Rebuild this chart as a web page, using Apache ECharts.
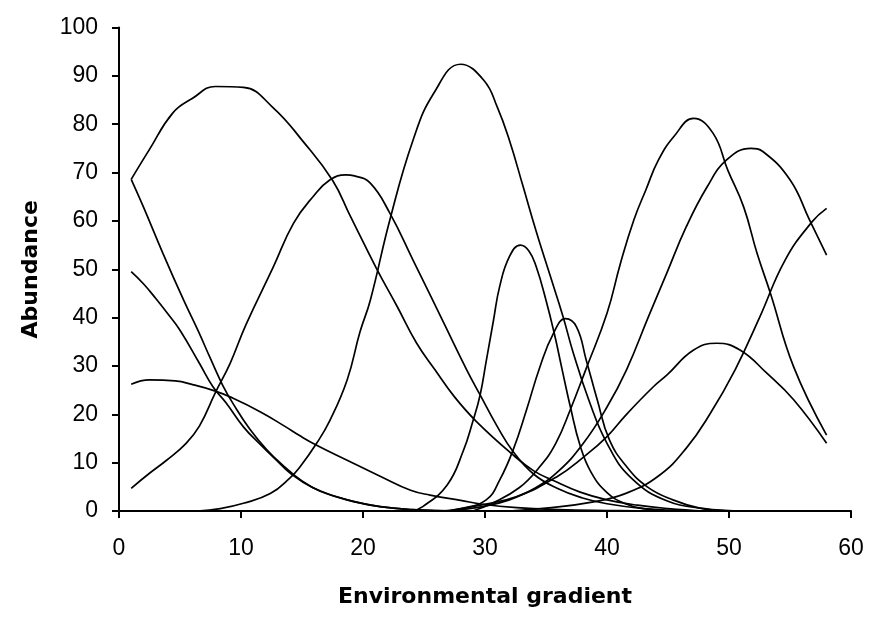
<!DOCTYPE html>
<html>
<head>
<meta charset="utf-8">
<script src="https://cdn.jsdelivr.net/npm/echarts@6/dist/echarts.min.js"></script>
<style>
    html, body { margin: 0; padding: 0; background: #fff; }
    #chart { width: 878px; height: 622px; }
</style>
</head>
<body>
<div id="chart"></div>
<script>
// species response curves along the gradient, [gradient, abundance]
var speciesA = [[1,68.6],[2.5,74.8],[4.4,82.3],[6,85.3],[7.9,87.8],[10.2,87.6],[12.6,83.5],[15.1,76.4],[17.5,68.4],[18.9,61.3],[21.1,50.2],[22.8,42.3],[24.4,34.7],[25.9,29.2],[27.5,23.6],[29.3,18.5],[32.3,11.6],[34,8.3],[35.6,6.3],[37.8,3.9],[40,2.3],[42.5,1.2],[45,0.5],[48,0]];
var speciesB = [[1,68.6],[2,62.9],[3.6,53.3],[5.3,43.6],[6.5,37.2],[7.5,31.5],[8.5,26],[9.4,22],[10.7,17],[12.1,12.7],[13.5,9.3],[15,6.2],[16.5,4.1],[18.7,2.3],[21.4,0.9],[24,0.3],[28,0]];
var speciesC = [[1,49.5],[2,47],[3,44],[4,40.8],[5,37.4],[6.6,30.5],[7.7,25.7],[8.8,22.3],[10.2,17.4],[11.6,13.7],[12.9,10.5],[14,7.9],[15.9,4.8],[18.7,2.3],[21.4,0.9],[24,0.3],[28,0]];
var speciesD = [[1,26.2],[2.5,27.1],[4.6,26.9],[6.1,26.1],[7.9,24.8],[9.1,23.6],[11.6,20.5],[13.6,17.5],[14.8,15.6],[16.2,13.6],[18.7,10.5],[21.4,7.2],[23.9,4.3],[25.5,3.3],[28,2.2],[29.8,1.4],[32.6,0.7],[36,0.3],[40,0.1],[44,0]];
var speciesE = [[1,4.7],[2.5,7.8],[3.9,10.5],[5.5,14],[6.6,17.6],[7.9,24.5],[9.1,30.5],[10.4,38.5],[12.65,50.5],[14.3,59.5],[15.9,65],[17.3,68.5],[18.6,69.5],[19.3,69.3],[20.6,67.8],[22.2,61.6],[24.1,51.9],[26.6,39],[28.5,29.2],[29.6,24],[31,17.5],[32.3,12.3],[34,7.6],[36,4.6],[38,2.7],[40,1.5],[43,0.5],[47,0]];
var speciesF = [[6.4,0],[8.3,0.5],[10.2,1.6],[12.4,3.6],[14,6.8],[14.8,9],[16.2,14],[17.3,18.8],[18.7,27.1],[19.75,37],[20.6,43.6],[22.2,60.2],[24.1,76.7],[25.8,86.4],[28,92.4],[29.9,89.1],[31,83.6],[32,76.7],[33.1,67.3],[34.2,57.8],[35.3,49],[36.4,40.2],[37.2,33],[38.5,23],[40,14],[42,6.8],[45,2],[48,0.5],[50.7,0]];
var speciesG = [[24,0],[24.9,0.9],[26.9,5.4],[28.2,12.3],[29,18.5],[29.6,24],[30.1,31],[30.7,39.5],[31.2,46.4],[32,52.6],[32.9,55],[33.6,53.8],[34.2,50.5],[35,43.6],[35.7,36.5],[36.3,29.5],[37,21.5],[37.8,13.5],[38.7,8],[40,3.8],[41.5,1.5],[43,0.5],[45,0]];
var speciesH = [[26.5,0],[28,0.5],[30.1,2.3],[31.2,6.4],[32.3,12.6],[33.4,20.9],[34.5,29.8],[35.6,36.7],[36.6,39.8],[37.5,38.1],[38.3,31.2],[39.2,23],[40.2,14.7],[41.6,9.2],[43.3,5],[45.4,2.3],[47.6,0.6],[50,0]];
var speciesI = [[29,0],[30.5,1.5],[32.8,4.8],[34.5,9.2],[35.8,14],[37,21],[38.3,29.5],[40,40.9],[41.1,51.2],[42.2,60.2],[43.2,66.5],[44.2,72.5],[45.5,77.5],[47.1,81.2],[48.7,78.1],[49.9,70.5],[51.2,62.9],[52.3,53.3],[53.4,45],[55.3,29.8],[58,15.7]];
var speciesJ = [[27,0],[30,1],[32,2.3],[34,4.6],[36,8.2],[38,13.8],[40,21.5],[41.6,29.2],[43.4,40.2],[44.9,49.2],[46.5,58.8],[48.2,67],[49.8,72.6],[51.8,75],[52.8,74.3],[55,68.5],[56.6,60.2],[58,52.9]];
var speciesK = [[27,0],[29.6,1.2],[32.6,3],[35.9,7.1],[38.1,11.2],[40,15.4],[41.6,20],[43.8,25.7],[44.9,28.1],[47.1,33.3],[49,34.7],[50.9,33.3],[53.1,28.5],[55.3,23],[58,14]];
var speciesL = [[32,0],[35,0.6],[38.9,1.9],[41.6,3.7],[44.3,7.4],[46.5,13],[48.4,19.9],[50.5,29.2],[52.5,40],[54.6,51.9],[56.8,59.8],[58,62.6]];

var allSpecies = [speciesA, speciesB, speciesC, speciesD, speciesE, speciesF,
                  speciesG, speciesH, speciesI, speciesJ, speciesK, speciesL];

var chart = echarts.init(document.getElementById('chart'));

var seriesList = [];
for (var i = 0; i < allSpecies.length; i++) {
    seriesList.push({
        name: 'sp' + (i + 1),
        type: 'line',
        data: allSpecies[i],
        smooth: 0.45,
        showSymbol: false,
        symbol: 'none',
        silent: true,
        lineStyle: { color: '#000', width: 1.7 }
    });
}

var labelFont = { fontFamily: 'Liberation Sans', fontSize: 23, color: '#000' };
var titleFont = { fontFamily: 'DejaVu Sans', fontWeight: 'bold', fontSize: 22, color: '#000' };

var option = {
    animation: false,
    backgroundColor: '#fff',
    grid: { left: 119, right: 27, top: 27.5, bottom: 111, outerBoundsMode: 'none' },
    xAxis: {
        type: 'value',
        min: 0, max: 60, interval: 10,
        name: 'Environmental gradient',
        nameLocation: 'middle',
        nameGap: 75,
        nameTextStyle: titleFont,
        axisLine: { show: true, onZero: false, lineStyle: { color: '#000', width: 2 } },
        axisTick: { show: true, inside: false, length: 7, lineStyle: { color: '#000', width: 2 } },
        axisLabel: Object.assign({ margin: 26 }, labelFont),
        splitLine: { show: false }
    },
    yAxis: {
        type: 'value',
        min: 0, max: 100, interval: 10,
        name: 'Abundance',
        nameLocation: 'middle',
        nameGap: 77,
        nameRotate: 90,
        nameTextStyle: titleFont,
        axisLine: { show: true, onZero: false, lineStyle: { color: '#000', width: 2 } },
        axisTick: { show: true, inside: false, length: 7, lineStyle: { color: '#000', width: 2 } },
        axisLabel: Object.assign({ margin: 21 }, labelFont),
        splitLine: { show: false }
    },
    series: seriesList
};

chart.setOption(option);
</script>
</body>
</html>
